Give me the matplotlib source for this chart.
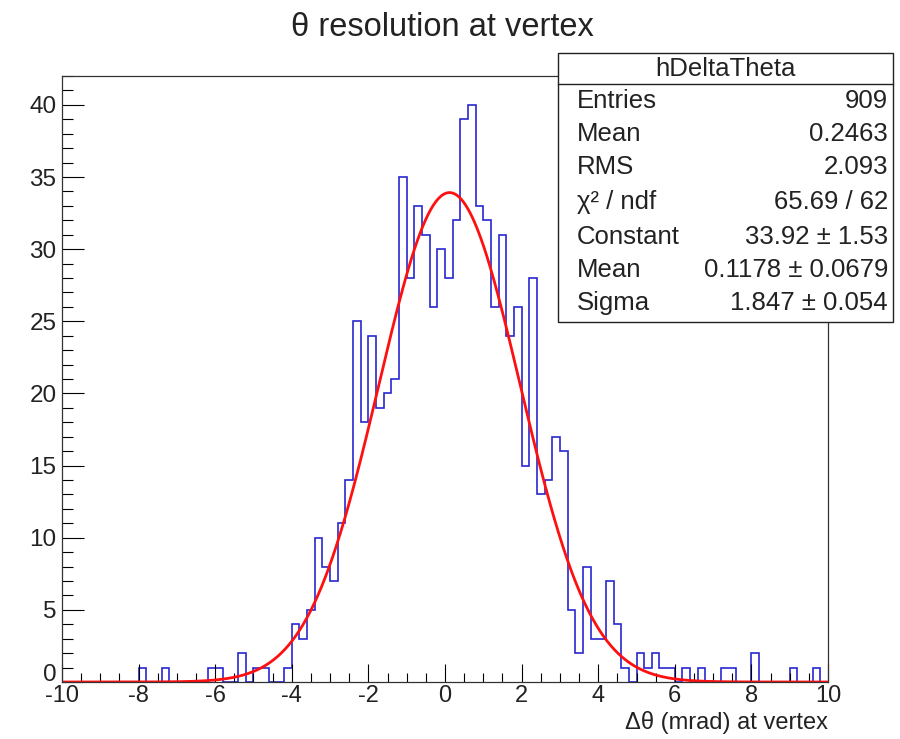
import numpy as np
import matplotlib
matplotlib.use("Agg")
import matplotlib.pyplot as plt
from matplotlib.ticker import MultipleLocator, FuncFormatter

plt.rcParams['font.family'] = ['Liberation Sans', 'DejaVu Sans']
plt.rcParams['axes.unicode_minus'] = False

# Histogram: 100 bins from -10 to 10
x_min, x_max, n_bins = -10.0, 10.0, 100
counts = [
    0, 0, 0, 0, 0, 0, 0, 0, 0, 0,
    1, 0, 0, 1, 0, 0, 0, 0, 0, 1,
    1, 0, 0, 2, 0, 1, 1, 0, 0, 1,
    4, 3, 5, 10, 8, 7, 11, 14, 25, 18,
    24, 19, 20, 21, 35, 28, 33, 31, 26, 30,
    28, 32, 39, 40, 33, 32, 26, 31, 24, 26,
    15, 28, 13, 14, 17, 16, 5, 2, 8, 3,
    3, 7, 4, 1, 0, 2, 1, 2, 1, 1,
    0, 1, 0, 1, 0, 0, 1, 1, 0, 0,
    2, 0, 0, 0, 0, 1, 0, 0, 1, 0,
]

# Gaussian fit parameters
fit_constant = 33.92
fit_mean = 0.1178
fit_sigma = 1.847

title = "θ resolution at vertex"
xlabel = "Δθ (mrad) at vertex"
stats_name = "hDeltaTheta"
stats_labels = ["Entries", "Mean", "RMS", "χ² / ndf", "Constant", "Mean", "Sigma"]
stats_values = ["909", "0.2463", "2.093", "65.69 / 62",
                "33.92 ± 1.53", "0.1178 ± 0.0679", "1.847 ± 0.054"]

W, H = 900, 739
fig = plt.figure(figsize=(W / 100, H / 100), dpi=100)
L, R, T, B = 62, 828, 76, 682
ax = fig.add_axes([L / W, 1 - B / H, (R - L) / W, (B - T) / H])

edges = np.linspace(x_min, x_max, n_bins + 1)
ax.stairs(counts, edges, color='#2828d0', linewidth=1.2, baseline=0)

xs = np.linspace(x_min, x_max, 1500)
ys = fit_constant * np.exp(-0.5 * ((xs - fit_mean) / fit_sigma) ** 2)
ax.plot(xs, ys, color='#ff1010', linewidth=2.0)

ax.set_xlim(x_min, x_max)
ax.set_ylim(0, 42)

TXT = '#222222'
ax.xaxis.set_major_locator(MultipleLocator(2))
ax.xaxis.set_minor_locator(MultipleLocator(0.5))
ax.yaxis.set_major_locator(MultipleLocator(5))
ax.yaxis.set_minor_locator(MultipleLocator(1))
# the y "0" label is placed by hand a little higher (as in the reference) so it clears "-10"
ax.yaxis.set_major_formatter(FuncFormatter(lambda v, p: '' if abs(v) < 1e-9 else f'{v:g}'))
ax.tick_params(axis='x', which='major', direction='in', length=13, width=0.8,
               labelsize=17, pad=2, top=False, labelcolor=TXT)
ax.tick_params(axis='x', which='minor', direction='in', length=6.5, width=0.8, top=False)
ax.tick_params(axis='y', which='major', direction='in', length=16, width=0.8,
               labelsize=17.5, pad=4, right=False, labelcolor=TXT)
ax.tick_params(axis='y', which='minor', direction='in', length=8, width=0.8, right=False)
for s in ax.spines.values():
    s.set_linewidth(0.9)
    s.set_color('#333333')

ax.annotate("0", xy=(0, 0), xycoords=('axes fraction', 'data'),
            xytext=(-4, 5), textcoords='offset points', ha='right', va='center',
            fontsize=17.5, color=TXT, annotation_clip=False)

fig.text(442 / W, 1 - 27 / H, title, ha='center', va='center', fontsize=23.5, color=TXT)
fig.text(828 / W, 1 - 722 / H, xlabel, ha='right', va='center', fontsize=17, color=TXT)

# Stats box
bx0, bx1, by0, by1 = 558, 893, 53, 322
box = plt.Rectangle((bx0 / W, 1 - by1 / H), (bx1 - bx0) / W, (by1 - by0) / H,
                    transform=fig.transFigure, facecolor='white', edgecolor='#222222',
                    linewidth=1.0, zorder=5)
fig.add_artist(box)
fig.add_artist(plt.Line2D([bx0 / W, bx1 / W], [1 - 84 / H, 1 - 84 / H],
                          transform=fig.transFigure, color='#222222', linewidth=1.0, zorder=6))
fig.text((bx0 + bx1) / 2 / W, 1 - 69 / H, stats_name, ha='center', va='center',
         fontsize=18.5, color=TXT, zorder=7)
row_y = [101, 134, 167, 202, 237, 270, 303]
for lab, val, yy in zip(stats_labels, stats_values, row_y):
    fig.text(577 / W, 1 - yy / H, lab, ha='left', va='center', fontsize=18.5,
             color=TXT, zorder=7)
    fig.text(888 / W, 1 - yy / H, val, ha='right', va='center', fontsize=18.5,
             color=TXT, zorder=7)

fig.savefig("out.png", dpi=100)
